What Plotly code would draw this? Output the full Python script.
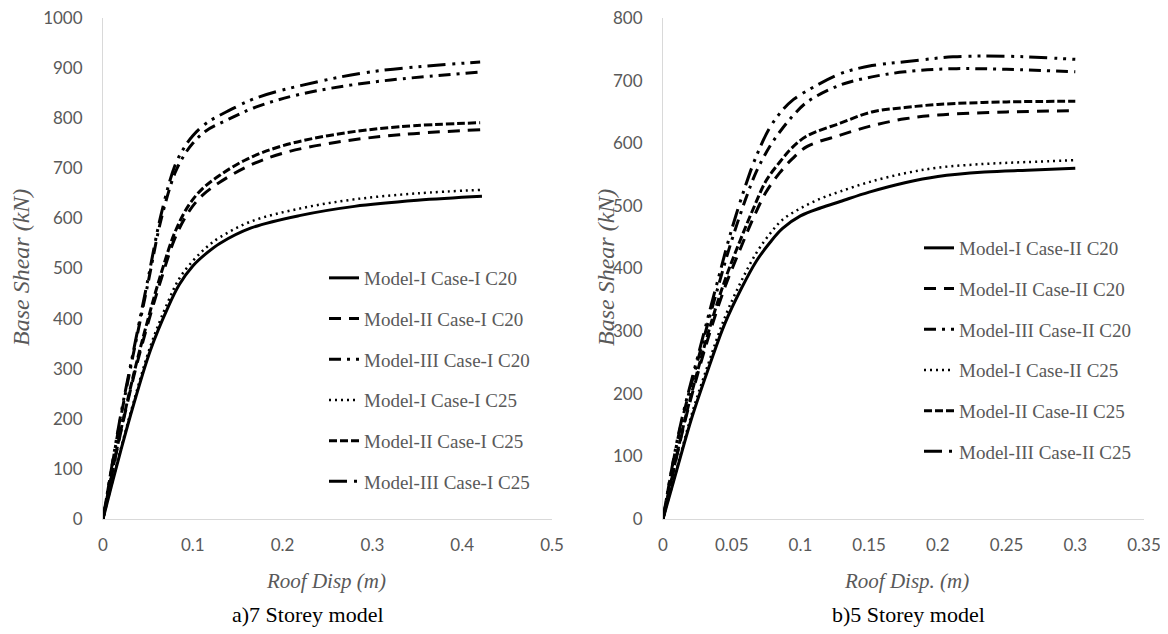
import plotly.graph_objects as go

# ---------------- data: 7 storey (left) ----------------
x7_I = [0, 0.01, 0.02, 0.034, 0.053, 0.072, 0.085, 0.1, 0.115, 0.13, 0.165, 0.22, 0.28, 0.35, 0.422]
y7_I_C20 = [0, 70, 138, 228, 338, 421, 468, 505, 530, 550, 581, 606, 624, 636, 644]
y7_I_C25 = [0, 72, 141, 233, 346, 432, 480, 515, 542, 562, 594, 620, 638, 650, 657]

x7_II = [0, 0.01, 0.02, 0.035, 0.05, 0.065, 0.08, 0.095, 0.11, 0.13, 0.16, 0.2, 0.26, 0.33, 0.42]
y7_II_C20 = [0, 90, 175, 290, 390, 480, 560, 612, 645, 672, 703, 730, 752, 767, 777]
y7_II_C25 = [0, 92, 178, 295, 398, 492, 572, 625, 658, 686, 718, 745, 768, 783, 791]

x7_III = [0, 0.01, 0.02, 0.035, 0.05, 0.065, 0.08, 0.09, 0.1, 0.115, 0.14, 0.17, 0.22, 0.3, 0.42]
y7_III_C20 = [0, 105, 205, 340, 470, 600, 690, 725, 750, 775, 798, 822, 848, 872, 892]
y7_III_C25 = [0, 107, 210, 345, 478, 610, 705, 740, 765, 790, 815, 840, 865, 893, 912]

# ---------------- data: 5 storey (right) ----------------
x5_I = [0, 0.01, 0.021, 0.033, 0.045, 0.057, 0.068, 0.078, 0.087, 0.1, 0.115, 0.129, 0.15, 0.176, 0.2, 0.234, 0.265, 0.3]
y5_I_C20 = [0, 78, 162, 240, 312, 368, 412, 442, 464, 484, 497, 507, 522, 537, 547, 554, 557, 560]
y5_I_C25 = [0, 80, 168, 248, 322, 380, 425, 456, 478, 496, 512, 523, 538, 552, 561, 567, 570, 573]

x5_II = [0, 0.01, 0.017, 0.033, 0.045, 0.056, 0.066, 0.075, 0.085, 0.094, 0.105, 0.129, 0.152, 0.176, 0.2, 0.25, 0.3]
y5_II_C20 = [0, 100, 165, 290, 370, 430, 482, 522, 553, 575, 595, 613, 628, 639, 645, 650, 652]
y5_II_C25 = [0, 102, 168, 298, 381, 444, 497, 540, 570, 593, 612, 632, 650, 657, 662, 666, 667]

x5_III = [0, 0.012, 0.028, 0.04, 0.049, 0.06, 0.068, 0.078, 0.087, 0.095, 0.105, 0.129, 0.152, 0.176, 0.211, 0.25, 0.3]
y5_III_C20 = [0, 140, 275, 370, 438, 510, 555, 596, 624, 645, 666, 693, 706, 714, 719, 718, 714]
y5_III_C25 = [0, 143, 282, 382, 455, 532, 580, 626, 653, 670, 684, 711, 724, 730, 738, 739, 734]

names7 = ["Model-I Case-I C20", "Model-II Case-I C20", "Model-III Case-I C20",
          "Model-I Case-I C25", "Model-II Case-I C25", "Model-III Case-I C25"]
names5 = ["Model-I Case-II C20", "Model-II Case-II C20", "Model-III Case-II C20",
          "Model-I Case-II C25", "Model-II Case-II C25", "Model-III Case-II C25"]

styles = [
    dict(dash="solid", width=3),
    dict(dash="12px,8px", width=3),
    dict(dash="12px,6px,3px,6px", width=3),
    dict(dash="2px,4px", width=2.5),
    dict(dash="8px,3px", width=3),
    dict(dash="18px,7px,3px,6px,3px,6px", width=3),
]

series7 = [(x7_I, y7_I_C20), (x7_II, y7_II_C20), (x7_III, y7_III_C20),
           (x7_I, y7_I_C25), (x7_II, y7_II_C25), (x7_III, y7_III_C25)]
series5 = [(x5_I, y5_I_C20), (x5_II, y5_II_C20), (x5_III, y5_III_C20),
           (x5_I, y5_I_C25), (x5_II, y5_II_C25), (x5_III, y5_III_C25)]

fig = go.Figure()
for i, ((xs, ys), nm) in enumerate(zip(series7, names7)):
    fig.add_trace(go.Scatter(x=xs, y=ys, mode="lines", name=nm, line_shape="spline",
                             line=dict(color="black", **styles[i]),
                             xaxis="x", yaxis="y", legend="legend",
                             legendgroup="a%d" % i))
for i, ((xs, ys), nm) in enumerate(zip(series5, names5)):
    fig.add_trace(go.Scatter(x=xs, y=ys, mode="lines", name=nm, line_shape="spline",
                             line=dict(color="black", **styles[i]),
                             xaxis="x2", yaxis="y2", legend="legend2",
                             legendgroup="b%d" % i))

# the page body adds an 8px offset; figure coordinates are given in page pixels
OFF = 8
W, H = 1160, 626
def px(v): return (v - OFF) / W
def py(v): return 1 - (v - OFF) / H

tickfont = dict(family="Lato", size=17, color="#595959")
axx = dict(showgrid=False, zeroline=False, showline=True, linecolor="#d9d9d9",
           linewidth=1, ticks="", tickfont=tickfont, ticklabelstandoff=11,
           automargin=False, ticklabeloverflow="allow")
axy = dict(axx, ticklabelstandoff=16)

legfont = dict(family="Liberation Serif", size=19, color="#595959")

fig.update_layout(
    width=W, height=H,
    margin=dict(l=0, r=0, t=0, b=0, autoexpand=False),
    paper_bgcolor="white", plot_bgcolor="white",
    xaxis=dict(domain=[px(103), px(552)], range=[0, 0.5], dtick=0.1, anchor="y", **axx),
    yaxis=dict(domain=[py(519), py(18)], range=[0, 1000], dtick=100, anchor="x", **axy),
    xaxis2=dict(domain=[px(663), px(1144)], range=[0, 0.35], dtick=0.05, anchor="y2", **axx),
    yaxis2=dict(domain=[py(519), py(18)], range=[0, 800], dtick=100, anchor="x2", **axy),
    legend=dict(x=px(324), y=py(259), xanchor="left", yanchor="top",
                font=legfont, tracegroupgap=13, bgcolor="rgba(0,0,0,0)"),
    legend2=dict(x=px(919), y=py(229), xanchor="left", yanchor="top",
                 font=legfont, tracegroupgap=13, bgcolor="rgba(0,0,0,0)"),
    showlegend=True,
)

ytitlefont = dict(family="Liberation Serif", size=24, color="#595959")
xtitlefont = dict(family="Liberation Serif", size=21, color="#595959")
capfont = dict(family="Liberation Serif", size=22, color="black")
ann = [
    dict(text="<i>Base Shear (kN)</i>", x=px(21), y=py(268), textangle=-90, font=ytitlefont),
    dict(text="<i>Base Shear (kN)</i>", x=px(606), y=py(268), textangle=-90, font=ytitlefont),
    dict(text="<i>Roof Disp (m)</i>", x=px(326), y=py(581), font=xtitlefont),
    dict(text="<i>Roof Disp. (m)</i>", x=px(906), y=py(581), font=xtitlefont),
    dict(text="a)7 Storey model", x=px(308), y=py(614), font=capfont),
    dict(text="b)5 Storey model", x=px(908), y=py(614), font=capfont),
]
for a in ann:
    a.update(xref="paper", yref="paper", showarrow=False, xanchor="center", yanchor="middle")
fig.update_layout(annotations=ann)

fig.write_html("out.html")
